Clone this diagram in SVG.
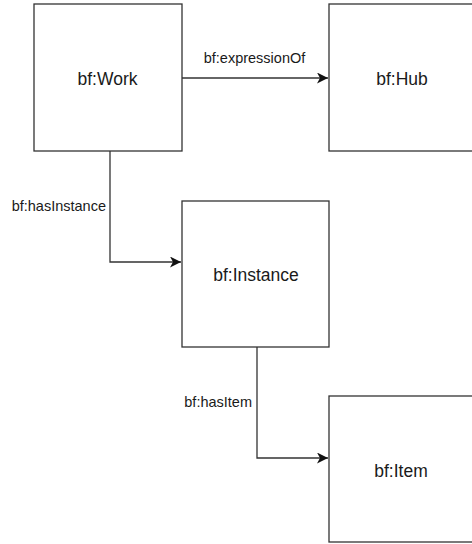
<svg xmlns="http://www.w3.org/2000/svg" width="472" height="544" viewBox="0 0 472 544">
<style>
.box{fill:#fff;stroke:#333;stroke-width:1.3}
.edge{fill:none;stroke:#333;stroke-width:1.3}
.lbl{font-family:"Liberation Sans",Arial,sans-serif;fill:#1a1a1a}
.node{font-size:17.5px;text-anchor:middle}
.elbl{font-size:14.5px}
</style>
<defs>
<marker id="arr" markerWidth="13" markerHeight="11" refX="11" refY="5.5" orient="auto" markerUnits="userSpaceOnUse">
<path d="M0,0 L11,5.5 L0,11 L3,5.5 Z" fill="#111"/>
</marker>
</defs>
<g id="connectors">
<path class="edge" d="M182,78 H328" marker-end="url(#arr)"/>
<path class="edge" d="M110,151 V262 H181" marker-end="url(#arr)"/>
<path class="edge" d="M257,347 V458 H328" marker-end="url(#arr)"/>
<text class="lbl elbl" x="254.5" y="63" text-anchor="middle">bf:expressionOf</text>
<text class="lbl elbl" x="106" y="211" text-anchor="end">bf:hasInstance</text>
<text class="lbl elbl" x="252" y="407" text-anchor="end">bf:hasItem</text>
</g>
<g id="work">
<rect class="box" x="34" y="4" width="148" height="147"/>
<text class="lbl node" x="107.5" y="85">bf:Work</text>
</g>
<g id="hub">
<rect class="box" x="329" y="4" width="148" height="147"/>
<text class="lbl node" x="402" y="85">bf:Hub</text>
</g>
<g id="instance">
<rect class="box" x="182" y="201" width="147" height="146"/>
<text class="lbl node" x="256" y="281">bf:Instance</text>
</g>
<g id="item">
<rect class="box" x="329" y="396" width="148" height="146"/>
<text class="lbl node" x="401" y="477">bf:Item</text>
</g>
</svg>
